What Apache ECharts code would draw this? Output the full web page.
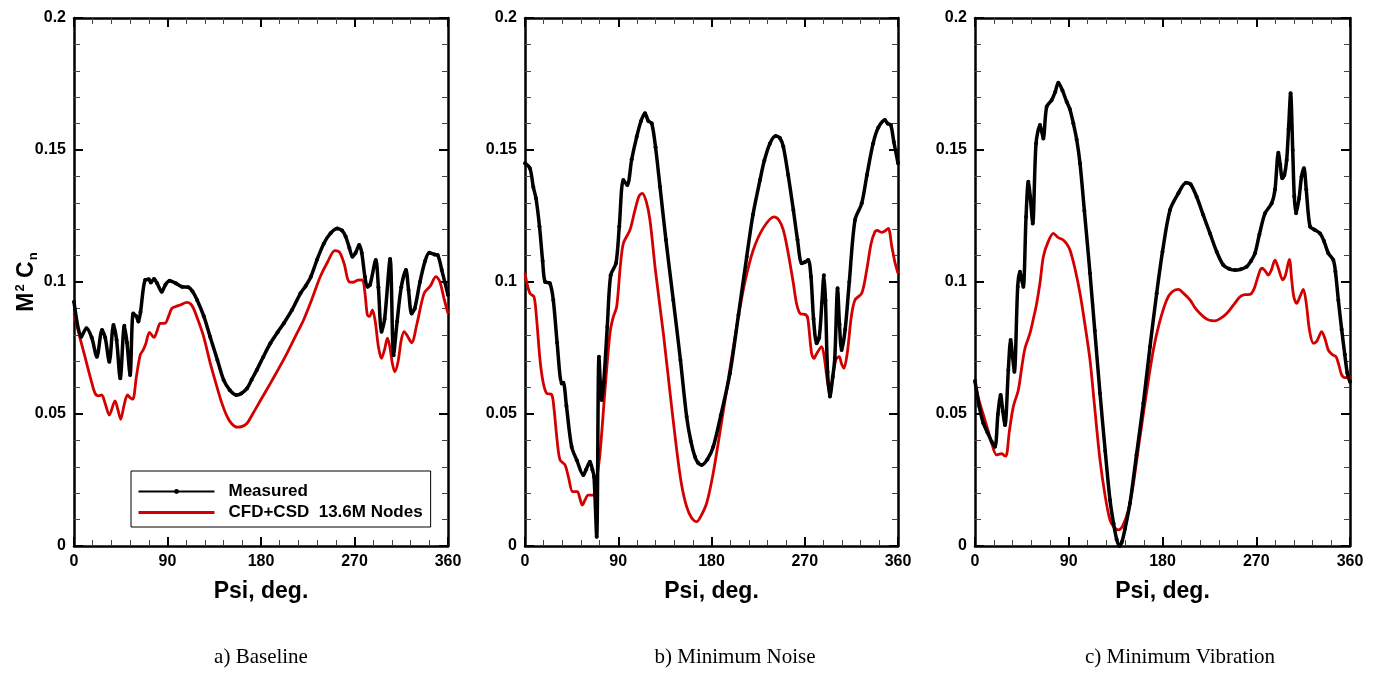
<!DOCTYPE html>
<html>
<head>
<meta charset="utf-8">
<script src="https://cdn.jsdelivr.net/npm/echarts@6/dist/echarts.min.js"></script>
<style>
html,body{margin:0;padding:0;background:#fff;}
#chart{width:1381px;height:673px;}
</style>
</head>
<body>
<div id="chart"></div>
<script>
// ---- data: [Psi deg, M^2 Cn] ----
const seriesNames = ['Measured', 'CFD+CSD  13.6M Nodes'];
const captions = ['a) Baseline', 'b) Minimum Noise', 'c) Minimum Vibration'];
const xTicks = [0, 90, 180, 270, 360];
const yTicks = [0, 0.05, 0.1, 0.15, 0.2];

const baseMeasured = [
[0,0.0925],[7,0.0793],[12,0.0825],[17,0.079],[22,0.0717],[27,0.0818],[30,0.079],[34,0.0698],[38,0.0837],[41,0.078],[44.5,0.0635],[48.5,0.0834],[51,0.077],[54,0.0648],[57,0.0881],[60,0.087],[62,0.085],[64,0.0886],[68.5,0.1008],[72,0.101],[74,0.0998],[77,0.1011],[80,0.0995],[84.5,0.0963],[88,0.099],[92,0.1005],[98,0.0995],[104,0.0982],[110,0.098],[114,0.0965],[118.5,0.0932],[125,0.087],[131,0.0793],[138,0.0705],[144,0.0629],[150,0.059],[156,0.0572],[161,0.0578],[166.5,0.0597],[171,0.063],[176,0.0667],[182,0.0715],[189,0.0768],[196,0.081],[202,0.0844],[210,0.0895],[218,0.0957],[223,0.0985],[228,0.102],[234,0.1085],[240.5,0.1146],[247,0.1185],[253.5,0.1203],[258,0.1195],[261.5,0.1172],[265,0.113],[268,0.1096],[271,0.111],[274.5,0.114],[277,0.111],[280,0.102],[282.5,0.0982],[285,0.099],[290.5,0.1083],[293,0.098],[296,0.0812],[299,0.086],[304.3,0.1087],[307.6,0.0723],[311,0.085],[315,0.098],[319.5,0.1045],[322,0.097],[325,0.0881],[328,0.09],[333,0.1],[338,0.108],[342,0.1111],[347,0.1104],[350,0.1102],[354,0.1045],[360,0.0951]
];
const baseCFD = [
[0,0.0881],[5,0.08],[9,0.074],[12.2,0.0692],[16,0.0635],[20.3,0.0578],[24,0.0569],[26.7,0.0572],[30,0.054],[34,0.0496],[39.5,0.055],[42,0.052],[45,0.048],[48,0.053],[51.5,0.0572],[54,0.0562],[56.6,0.0556],[60,0.064],[63.7,0.0723],[66.5,0.0742],[69,0.0765],[72.7,0.0809],[77,0.079],[80,0.0815],[83,0.0843],[87.8,0.0844],[91,0.087],[94.2,0.09],[98,0.0907],[102.3,0.0913],[108.7,0.0923],[112,0.0918],[115,0.09],[119,0.086],[124.8,0.0793],[131,0.0695],[137.6,0.0603],[142,0.0545],[147.4,0.049],[152,0.0462],[157,0.045],[162,0.0453],[166.6,0.0465],[172,0.05],[180,0.0555],[189,0.0616],[197,0.0672],[205,0.073],[213,0.0793],[221,0.0856],[229,0.0935],[237,0.102],[244,0.1075],[251,0.1119],[255.5,0.1113],[260,0.107],[264.7,0.1001],[269,0.0999],[273,0.1007],[277.5,0.1008],[280,0.096],[282.4,0.0875],[284.5,0.087],[287.2,0.0894],[290,0.085],[293,0.0755],[296,0.0711],[299,0.0745],[301.7,0.0787],[304,0.0755],[306.5,0.069],[308.8,0.066],[312,0.07],[315,0.078],[317.8,0.0812],[321,0.0795],[325,0.077],[330,0.084],[337,0.0957],[343,0.0985],[348.4,0.102],[352,0.1003],[356,0.094],[360,0.0881]
];
const noiseMeasured = [
[0,0.145],[4.8,0.143],[8,0.136],[10.6,0.1317],[14,0.121],[17,0.108],[19.3,0.1001],[24,0.0995],[27.3,0.0932],[31,0.077],[35.4,0.0616],[37,0.0618],[40,0.053],[45,0.0376],[50,0.0325],[56.3,0.0269],[59,0.029],[62.7,0.0319],[65,0.029],[66.6,0.0263],[69.2,0.0035],[71.4,0.0717],[74,0.0553],[76,0.062],[79.4,0.083],[82.7,0.1026],[87.8,0.1071],[91,0.121],[94.9,0.1386],[98.7,0.1367],[103,0.1465],[107.8,0.155],[112,0.161],[115.8,0.1639],[119,0.161],[122.3,0.1601],[126,0.151],[130.3,0.1361],[136,0.116],[143.1,0.0932],[150,0.0705],[156,0.049],[160,0.0398],[164,0.0338],[167,0.0315],[170.5,0.0307],[176,0.0328],[181.7,0.0376],[189,0.0495],[197.8,0.0654],[206,0.0875],[214,0.1096],[220,0.1255],[226.8,0.1386],[231,0.146],[236.4,0.1525],[242,0.1553],[246,0.1545],[249.3,0.1513],[254,0.1405],[259,0.1273],[263,0.116],[267,0.1071],[270,0.1075],[273.4,0.1083],[276,0.102],[278.5,0.086],[281.5,0.0768],[284,0.079],[286.5,0.092],[288.5,0.1026],[290,0.093],[292,0.066],[294.3,0.0566],[297,0.064],[299,0.0712],[301.7,0.0976],[303.5,0.084],[305.6,0.0742],[309,0.082],[313,0.1],[318.5,0.1235],[325,0.1298],[330,0.1405],[336,0.1525],[341,0.1585],[347.4,0.1614],[350,0.16],[353,0.1595],[356,0.153],[360,0.145]
];
const noiseCFD = [
[0,0.1035],[1.6,0.1],[4.8,0.0957],[8.7,0.0944],[11,0.087],[14.5,0.0705],[17.5,0.062],[20.9,0.0578],[25.7,0.0574],[28,0.052],[31,0.04],[33.8,0.0326],[38.6,0.0307],[42,0.026],[46,0.0206],[50.5,0.0206],[53,0.018],[55.3,0.0155],[58,0.0175],[61,0.0193],[66,0.0193],[69,0.025],[72.4,0.0351],[77,0.058],[82,0.0806],[85,0.0865],[88.5,0.0907],[92,0.106],[95,0.1147],[101.3,0.1197],[106,0.127],[110,0.1325],[113.2,0.1336],[117,0.1305],[120.6,0.1235],[126,0.104],[133.5,0.0806],[140,0.058],[146.4,0.0364],[151,0.0235],[156,0.0149],[161,0.0105],[165.7,0.0092],[170,0.0115],[175.3,0.0162],[181,0.0262],[188,0.0427],[196,0.0625],[204.3,0.0831],[212,0.0995],[220.3,0.1121],[230,0.1205],[240.3,0.1247],[245,0.1235],[249.3,0.1197],[254,0.111],[259,0.0995],[262,0.092],[265.4,0.0881],[271,0.0876],[273,0.086],[276.6,0.073],[279,0.071],[281,0.0725],[286.3,0.0755],[289,0.071],[292,0.062],[294.3,0.0578],[297,0.064],[300,0.0705],[303.3,0.0717],[305.5,0.069],[307.8,0.0673],[311,0.073],[315,0.087],[318.5,0.0932],[325,0.0957],[330,0.105],[334,0.1145],[337.8,0.1191],[340,0.1195],[344,0.1188],[347,0.1192],[350.6,0.1203],[354,0.1135],[357,0.1075],[360,0.1033]
];
const vibMeasured = [
[0,0.0625],[4,0.053],[8,0.0465],[12,0.043],[16,0.0395],[19.2,0.0376],[22,0.05],[24.6,0.0572],[26.7,0.051],[28.8,0.0458],[32,0.0667],[34.2,0.078],[36,0.072],[37.8,0.066],[41,0.0982],[43.2,0.1039],[44.8,0.101],[46.4,0.0982],[49,0.1247],[51.2,0.138],[53,0.1325],[55.4,0.1222],[58.6,0.1525],[62.4,0.1595],[64,0.157],[65.6,0.1544],[68.8,0.1664],[73.6,0.1689],[77,0.172],[80,0.1755],[84,0.1725],[88,0.1683],[91,0.1655],[94.4,0.1601],[97.6,0.154],[100.8,0.145],[105,0.127],[110.4,0.1033],[115,0.0815],[120,0.0578],[125,0.036],[129.6,0.0174],[133,0.0085],[136,0.0025],[138.6,0.0],[141,0.0015],[144,0.0065],[148.8,0.0162],[155,0.0345],[161.6,0.054],[168,0.0755],[174.4,0.0957],[180,0.1115],[187.2,0.1273],[195.2,0.1336],[202.6,0.1376],[207,0.137],[212.8,0.1323],[219,0.1255],[225.6,0.1184],[232,0.1115],[238.4,0.1064],[244,0.105],[249.6,0.1045],[255,0.1048],[260.8,0.1058],[265,0.108],[268.8,0.1109],[273,0.118],[278.4,0.126],[284.8,0.1298],[288,0.135],[291.2,0.149],[293,0.1445],[295,0.1393],[297,0.1405],[299.2,0.1462],[301,0.158],[303,0.1715],[305,0.15],[306.5,0.1325],[308.2,0.126],[311,0.1315],[313.5,0.14],[315.8,0.1431],[318,0.135],[321.6,0.121],[326,0.1198],[331.2,0.1184],[335,0.1155],[339.2,0.1109],[344,0.1083],[346,0.104],[348.8,0.0932],[352,0.082],[355,0.0725],[357.4,0.0655],[360,0.0622]
];
const vibCFD = [
[0,0.062],[4,0.055],[9.6,0.0477],[15,0.0405],[20.8,0.0345],[25.6,0.035],[28,0.0343],[29.8,0.0341],[33,0.0435],[36.8,0.0528],[41.6,0.0591],[45,0.068],[48,0.0749],[52.8,0.0806],[56,0.086],[59.2,0.0919],[62.5,0.1],[65.6,0.1096],[70,0.115],[75.2,0.1184],[80,0.1168],[84.8,0.1159],[88,0.1145],[91.2,0.1121],[96,0.105],[100.8,0.0957],[105.5,0.084],[110.4,0.0705],[115,0.052],[120,0.0326],[125,0.0188],[129.6,0.0098],[133.5,0.0071],[137.6,0.0061],[142,0.0078],[147.2,0.0136],[152,0.0235],[158.4,0.0414],[165,0.059],[171.2,0.0742],[177,0.0845],[184,0.0932],[189,0.0962],[195.2,0.0972],[200,0.0958],[206.4,0.0932],[212,0.0898],[219.2,0.0869],[225,0.0855],[230.4,0.0853],[236,0.0863],[241.6,0.0881],[248,0.0912],[254.4,0.0944],[259,0.0952],[264,0.0953],[268,0.0975],[272,0.1025],[275.2,0.1052],[278,0.1045],[281.6,0.1026],[284.5,0.1045],[288,0.1083],[291,0.1055],[295.4,0.1008],[298,0.1025],[301.8,0.1086],[304,0.101],[306,0.0945],[308.8,0.0919],[312,0.0945],[315.2,0.0972],[318,0.092],[321,0.082],[324.8,0.0768],[328,0.0775],[332.8,0.0812],[336,0.0785],[339.2,0.0742],[343,0.0725],[346.6,0.0717],[349,0.069],[352,0.0648],[355,0.0638],[357,0.0638],[358.5,0.065],[360,0.063]
];

const panels = [
  {meas: baseMeasured, cfd: baseCFD, left: 74, width: 374},
  {meas: noiseMeasured, cfd: noiseCFD, left: 525, width: 373},
  {meas: vibMeasured, cfd: vibCFD, left: 975, width: 375}
];

const FONT = '"Liberation Sans", Arial, sans-serif';
const SERIF = '"Liberation Serif", "Times New Roman", serif';

const grid = [], xAxis = [], yAxis = [], series = [];
const lineC = '#000';

panels.forEach((p, i) => {
  grid.push({left: p.left, top: 18, width: p.width, height: 528, containLabel: false});
  const tickCommon = {
    axisTick: {show: true, inside: true, length: 9, lineStyle: {color: lineC, width: 2}},
    minorTick: {show: true, splitNumber: 5, length: 6, lineStyle: {color: '#444', width: 1}},
    splitLine: {show: false}, minorSplitLine: {show: false},
    axisLine: {show: true, onZero: false, lineStyle: {color: lineC, width: 2.5}}
  };
  xAxis.push(Object.assign({
    type: 'value', gridIndex: i, min: xTicks[0], max: xTicks[xTicks.length-1], interval: 90,
    position: 'bottom',
    name: 'Psi, deg.', nameLocation: 'middle', nameGap: 34, nameMoveOverlap: false,
    nameTextStyle: {fontFamily: FONT, fontWeight: 'bold', fontSize: 23, color: '#000'},
    axisLabel: {show: true, margin: 8, fontFamily: FONT, fontWeight: 'bold', fontSize: 16, color: '#000'}
  }, tickCommon));
  xAxis.push(Object.assign({
    type: 'value', gridIndex: i, min: 0, max: 360, interval: 90, position: 'top',
    axisLabel: {show: false}
  }, tickCommon));
  const yl = Object.assign({
    type: 'value', gridIndex: i, min: yTicks[0], max: yTicks[yTicks.length-1], interval: 0.05,
    position: 'left',
    axisLabel: {show: true, margin: 8, fontFamily: FONT, fontWeight: 'bold', fontSize: 16, color: '#000',
      formatter: v => String(+v.toFixed(3))}
  }, tickCommon);
  if (i === 0) {
    Object.assign(yl, {
      name: '{m|M}{s|2}{m| C}{b|n}', nameLocation: 'middle', nameGap: 32, nameRotate: 90,
      nameMoveOverlap: false,
      nameTextStyle: {
        fontFamily: FONT, fontWeight: 'bold', fontSize: 23, color: '#000',
        rich: {
          m: {fontFamily: FONT, fontWeight: 'bold', fontSize: 23, color: '#000', lineHeight: 30, verticalAlign: 'middle'},
          s: {fontFamily: FONT, fontWeight: 'bold', fontSize: 13, color: '#000', lineHeight: 30, verticalAlign: 'top', padding: [2, 0, 0, 1]},
          b: {fontFamily: FONT, fontWeight: 'bold', fontSize: 13, color: '#000', lineHeight: 30, verticalAlign: 'bottom', padding: [0, 0, 2, 1]}
        }
      }
    });
  }
  yAxis.push(yl);
  yAxis.push(Object.assign({
    type: 'value', gridIndex: i, min: 0, max: 0.2, interval: 0.05, position: 'right',
    axisLabel: {show: false}
  }, tickCommon));

  series.push({
    name: seriesNames[0], type: 'line', xAxisIndex: 2*i, yAxisIndex: 2*i,
    data: p.meas, smooth: 0.3, symbol: 'circle', symbolSize: 4, showSymbol: true,
    lineStyle: {color: '#000', width: 3.5}, itemStyle: {color: '#000'}, z: 3, clip: true
  });
  series.push({
    name: seriesNames[1], type: 'line', xAxisIndex: 2*i, yAxisIndex: 2*i,
    data: p.cfd, smooth: 0.3, symbol: 'none', showSymbol: false,
    lineStyle: {color: '#d40000', width: 2.8}, itemStyle: {color: '#d40000'}, z: 2, clip: true
  });
});

const capX = [261, 735, 1180];
const graphic = captions.map((t, i) => ({
  type: 'text', x: capX[i], y: 647,
  style: {text: t, font: '21px ' + SERIF, fill: '#000', textAlign: 'center'}
}));

const option = {
  animation: false,
  backgroundColor: '#fff',
  grid, xAxis, yAxis, series, graphic,
  legend: {
    show: true, orient: 'vertical', left: 131, top: 471,
    data: [
      {name: seriesNames[0], itemStyle: {color: '#000'}, lineStyle: {width: 2, color: '#000'}},
      {name: seriesNames[1], itemStyle: {opacity: 0}, lineStyle: {width: 3, color: '#d40000'}}
    ],
    itemWidth: 76, itemHeight: 6, itemGap: 4,
    padding: [12, 8, 6, 6],
    borderColor: '#000', borderWidth: 1, backgroundColor: '#fff',
    textStyle: {fontFamily: FONT, fontWeight: 'bold', fontSize: 17, color: '#000', padding: [0, 0, 0, 9]},
    selectedMode: false
  }
};

const chart = echarts.init(document.getElementById('chart'), null, {renderer: 'canvas'});
chart.setOption(option);
</script>
</body>
</html>
